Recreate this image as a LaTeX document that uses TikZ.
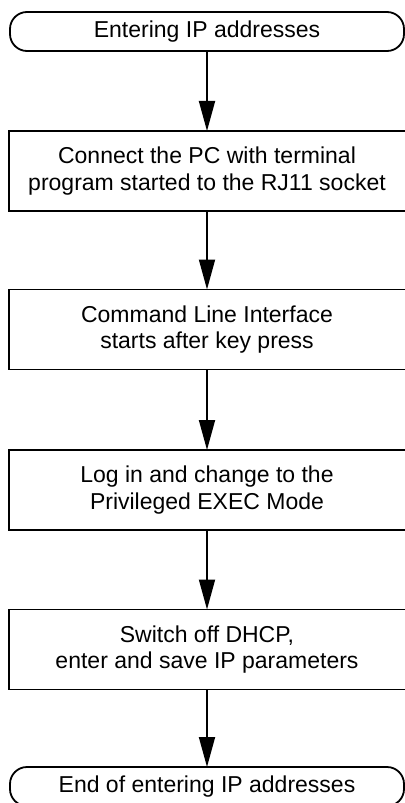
\documentclass[tikz,border=0pt]{standalone}
\usepackage{fontspec}
\setmainfont{Liberation Sans}
\usetikzlibrary{arrows.meta}
\tikzset{
  base/.style={draw=black, line width=1.8bp, inner sep=0pt, outer sep=0pt, align=center,
    font=\fontsize{23bp}{26.5bp}\selectfont, text=black},
  term/.style={base, rectangle, rounded corners=17bp, minimum width=394bp, minimum height=39bp},
  stepbox/.style={base, rectangle, minimum width=406bp, minimum height=80bp},
  steptext/.style={draw=none, inner sep=0pt, align=center, xshift=-5bp,
    font=\fontsize{23bp}{26.5bp}\selectfont, text=black},
  flow/.style={draw=black, line width=1.8bp, -{Triangle[length=30bp,width=16bp]}}
}
\begin{document}
\begin{tikzpicture}[x=1bp, y=-1bp]
\useasboundingbox (0,0) rectangle (404,803);
\node[term] (start) at (207,31.5) {Entering IP addresses};
\node[stepbox, label={[steptext]center:{Connect the PC with terminal\\program started to the RJ11 socket}}] (b1) at (212,171) {};
\node[stepbox, label={[steptext]center:{Command Line Interface\\starts after key press}}] (b2) at (212,329.5) {};
\node[stepbox, label={[steptext]center:{Log in and change to the\\Privileged EXEC Mode}}] (b3) at (212,490) {};
\node[stepbox, label={[steptext]center:{Switch off DHCP,\\enter and save IP parameters}}] (b4) at (212,649.5) {};
\node[term] (end) at (207,786.5) {End of entering IP addresses};
\draw[flow] (start.south) -- ([xshift=-5bp]b1.north);
\draw[flow] ([xshift=-5bp]b1.south) -- ([xshift=-5bp]b2.north);
\draw[flow] ([xshift=-5bp]b2.south) -- ([xshift=-5bp]b3.north);
\draw[flow] ([xshift=-5bp]b3.south) -- ([xshift=-5bp]b4.north);
\draw[flow] ([xshift=-5bp]b4.south) -- (end.north);
\end{tikzpicture}
\end{document}
